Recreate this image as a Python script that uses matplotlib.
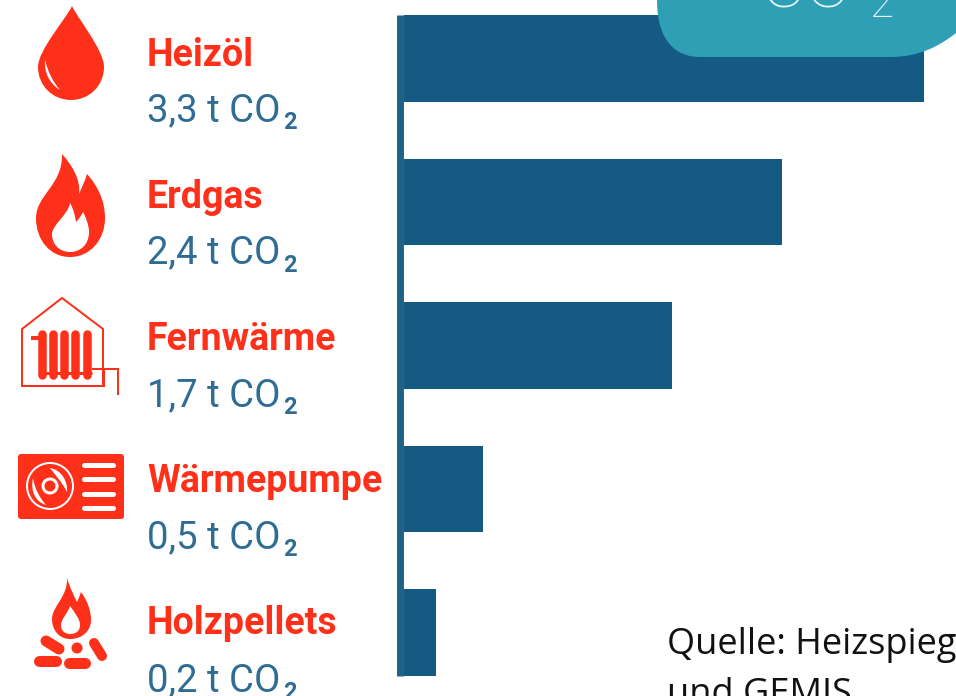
import matplotlib

matplotlib.use("Agg")
import matplotlib.pyplot as plt
from matplotlib.patches import Circle, FancyBboxPatch, PathPatch
from matplotlib.path import Path

# data
categories = ["Heizöl", "Erdgas", "Fernwärme", "Wärmepumpe", "Holzpellets"]
co2_tons = [3.3, 2.4, 1.7, 0.5, 0.2]

RED = "#ff3019"
BAR = "#155a82"
AXIS = "#1f6288"
VALUE = "#2f6d94"
TEAL = "#2f9fb5"
W, H = 956, 696


def bezier(points):
    # first point is a moveto, the rest come in threes (cubic segments)
    codes = [Path.MOVETO] + [Path.CURVE4] * (len(points) - 1)
    return Path(points, codes)


def fill(ax, points, color=RED):
    ax.add_patch(PathPatch(bezier(points), fc=color, ec="none"))


def stroke(ax, xs, ys, lw=2.0, color=RED, cap="butt"):
    ax.plot(xs, ys, color=color, lw=lw * 0.72, solid_capstyle=cap, solid_joinstyle="miter")


def draw_drop(ax):
    fill(ax, [(72, 6), (66, 19), (38, 50), (38, 67), (38, 86), (53, 100), (71, 100),
              (89, 100), (104, 86), (104, 67), (104, 50), (78, 19), (72, 6)])
    fill(ax, [(45, 60), (44, 73), (50, 84), (60, 90), (53, 82), (48, 72), (45, 60)], "white")


def draw_flame(ax):
    fill(ax, [(62, 154), (72, 165), (81, 180), (79, 194), (82, 187), (85, 181), (87, 174),
              (97, 185), (105, 200), (105, 218), (105, 240), (90, 257), (70, 257),
              (50, 257), (36, 240), (36, 218), (36, 195), (63, 185), (62, 154)])
    fill(ax, [(70, 203), (68, 215), (52, 225), (52, 234), (52, 245), (60, 252), (70, 252),
              (80, 252), (89, 245), (89, 232), (89, 225), (86, 218), (83, 212),
              (81, 216), (79, 219), (76, 222), (75, 215), (73, 208), (70, 203)], "white")


def draw_house(ax):
    stroke(ax, [103, 103, 62, 22, 22, 104, 104], [386, 329, 298, 329, 386, 386, 369])
    stroke(ax, [92, 118, 118], [369, 369, 395])
    for x in [42, 53, 64, 75, 87]:
        stroke(ax, [x, x], [334, 375], lw=8.5, cap="round")
    stroke(ax, [31, 40], [338, 338], lw=4)
    stroke(ax, [40, 92], [373, 373], lw=3)


def draw_pump(ax):
    ax.add_patch(FancyBboxPatch((20, 456), 102, 61, boxstyle="round,pad=2,rounding_size=3",
                                fc=RED, ec="none"))
    ax.add_patch(Circle((50, 486), 24, fc="white", ec="none"))
    ax.add_patch(Circle((50, 486), 22, fc=RED, ec="none"))
    fill(ax, [(50, 468), (62, 470), (68, 482), (67, 492), (62, 482), (56, 476), (50, 468)], "white")
    fill(ax, [(33, 478), (30, 492), (36, 502), (46, 505), (40, 498), (35, 490), (33, 478)], "white")
    ax.add_patch(Circle((50, 486), 8.5, fc="white", ec="none"))
    ax.add_patch(Circle((50, 486), 5.5, fc=RED, ec="none"))
    for y in [465, 479, 494, 508]:
        stroke(ax, [84, 113], [y, y], lw=5, color="white", cap="round")


def draw_campfire(ax):
    fill(ax, [(67, 578), (70, 588), (74, 596), (77, 602), (79, 598), (80, 595), (81, 592),
              (87, 600), (91, 610), (91, 620), (91, 631), (82, 639), (70, 639),
              (59, 639), (52, 630), (52, 619), (52, 606), (68, 597), (67, 578)])
    fill(ax, [(70, 606), (68, 613), (61, 619), (61, 625), (61, 631), (65, 634), (70, 634),
              (76, 634), (80, 631), (80, 625), (80, 619), (75, 613), (70, 606)], "white")
    stroke(ax, [39, 56], [661, 661], lw=11, cap="round")
    stroke(ax, [69, 85], [663, 663], lw=11, cap="round")
    stroke(ax, [46, 59], [641, 649], lw=11, cap="round")
    stroke(ax, [94, 102], [643, 656], lw=10, cap="round")
    ax.add_patch(Circle((77, 648), 5.5, fc=RED, ec="none"))


fig = plt.figure(figsize=(W / 100, H / 100), dpi=100)

# bars, on real data axes placed at their pixel position
ax = fig.add_axes([404 / W, 1 - 676 / H, (924 - 404) / W, (676 - 15) / H])
y_pos = range(len(categories))
ax.barh(y_pos, co2_tons, height=0.603, color=BAR)
ax.set_xlim(0, 3.3)
ax.set_ylim(len(categories) - 1 + 0.3015, -0.3015)
ax.set_xticks([])
ax.set_yticks([])
for side in ["top", "right", "bottom"]:
    ax.spines[side].set_visible(False)
ax.spines["left"].set_linewidth(5)
ax.spines["left"].set_color(AXIS)
ax.spines["left"].set_position(("outward", 3))
ax.spines["left"].set_capstyle("butt")

# overlay in pixel coordinates for labels, icons and the badge
over = fig.add_axes([0, 0, 1, 1])
over.set_xlim(0, W)
over.set_ylim(H, 0)
over.axis("off")

# labels
for i, (name, val) in enumerate(zip(categories, co2_tons)):
    over.text(147, 66 + i * 142, name, color=RED, fontsize=27, fontweight="bold",
              family="Roboto", va="baseline", ha="left")
    t = over.text(147, 121 + i * 142.5, f"{val:.1f}".replace(".", ",") + " t CO", color=VALUE,
                  fontsize=27.5, family="Roboto", va="baseline", ha="left")
    over.annotate("2", xy=(1, 0), xycoords=t, xytext=(2, 0), textcoords="offset points",
                  color=VALUE, fontsize=17, fontweight="bold", family="Roboto",
                  va="baseline", ha="left")

draw_drop(over)
draw_flame(over)
draw_house(over)
draw_pump(over)
draw_campfire(over)

# badge, cut off by the top and right edge
badge = [(657, -10), (657, -10), (657, 0), (657, 0), (657, 40), (675, 57), (700, 57),
         (760, 57), (830, 57), (890, 57), (920, 57), (940, 46), (960, 30),
         (960, 10), (960, 0), (960, -10), (860, -10), (760, -10), (657, -10)]
fill(over, badge, TEAL)
over.text(760, 7, "CO", color="#e8f6f8", fontsize=50, family="Roboto", fontweight="light",
          va="baseline", ha="left", clip_on=True)
over.text(870, 17, "2", color="#e8f6f8", fontsize=32, family="Roboto", fontweight="light",
          va="baseline", ha="left", clip_on=True)

# source note, runs off the picture like the reference
over.text(667, 654, "Quelle: Heizspiegel", color="#111111", fontsize=26, family="Open Sans",
          va="baseline", ha="left", clip_on=True)
over.text(667, 704, "und GEMIS", color="#111111", fontsize=26, family="Open Sans",
          va="baseline", ha="left", clip_on=True)

fig.savefig("out.png", dpi=100)
